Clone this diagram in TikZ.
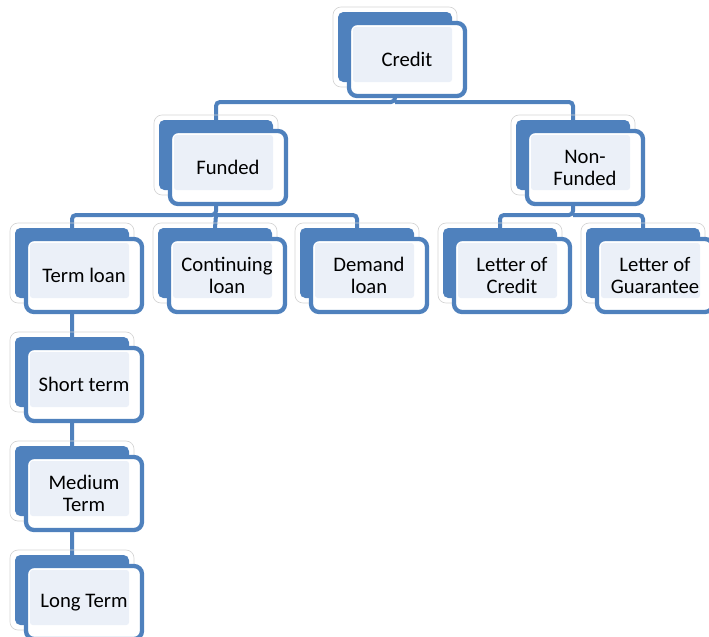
\documentclass[tikz,border=0pt]{standalone}
\usepackage{fontspec}
\setmainfont{Carlito}
\usetikzlibrary{backgrounds}
\definecolor{boxblue}{HTML}{4F81BD}
\definecolor{boxlight}{HTML}{EBF0F8}
\definecolor{ghostgray}{HTML}{D4D4D4}

\newcommand{\orgbox}[4]{%
\draw[ghostline] (#2-5,#3-5) rectangle (#2+119,#3+75);
\node[backbox] (#1-back) at (#2,#3) {};
\node[frontbox] (#1-front) at (#2+11,#3+11) {};
\fill[boxlight,rounded corners=2pt] ([shift={(4,4)}]#1-front.north west) rectangle (#1-back.south east);
\node[boxtext] (#1) at (#1-front.center) {#4};}

\begin{document}
\begin{tikzpicture}[x=0.75pt,y=-0.75pt]
\tikzset{backbox/.style={anchor=north west,fill=boxblue,rounded corners=4pt,
minimum width=85.5pt,minimum height=52.5pt,inner sep=0pt,outer sep=0pt},
frontbox/.style={anchor=north west,draw=boxblue,fill=white,line width=3.2pt,rounded corners=6pt,
minimum width=87pt,minimum height=54.75pt,inner sep=0pt,outer sep=0pt},
ghostline/.style={draw=ghostgray,line width=0.5pt,rounded corners=6pt},
boxtext/.style={align=center,font=\fontsize{15.5}{16.5}\selectfont,text=black},
link/.style={draw=boxblue,line width=3pt,rounded corners=3pt}}
\clip (0,0) rectangle (709,636);

\orgbox{credit}{338}{12}{Credit}
\orgbox{funded}{159}{120}{Funded}
\orgbox{non-funded}{516}{120}{Non-\\Funded}
\orgbox{term-loan}{15}{228}{Term loan}
\orgbox{continuing-loan}{158}{228}{Continuing\\loan}
\orgbox{demand-loan}{300}{228}{Demand\\loan}
\orgbox{letter-credit}{443}{228}{Letter of\\Credit}
\orgbox{letter-guarantee}{586}{228}{Letter of\\Guarantee}
\orgbox{short-term}{15}{337}{Short term}
\orgbox{medium-term}{15}{446}{Medium\\Term}
\orgbox{long-term}{15}{555}{Long Term}

\begin{scope}[on background layer]
\coordinate (credit-bar) at (395,102);
\coordinate (funded-bar) at (216,215);
\coordinate (non-funded-bar) at (573,215);
\path[link]
(credit-back.south) -- (credit-bar) -| (funded-back.north)
(credit-bar) -| (non-funded-back.north)
(funded-back.south) -- (funded-bar) -| (term-loan-back.north)
(funded-bar) -- (continuing-loan-back.north)
(funded-bar) -| (demand-loan-back.north)
(non-funded-back.south) -- (non-funded-bar) -| (letter-credit-back.north)
(non-funded-bar) -| (letter-guarantee-back.north)
(term-loan-back.south) -- (short-term-back.north)
(short-term-back.south) -- (medium-term-back.north)
(medium-term-back.south) -- (long-term-back.north);
\end{scope}
\end{tikzpicture}
\end{document}
